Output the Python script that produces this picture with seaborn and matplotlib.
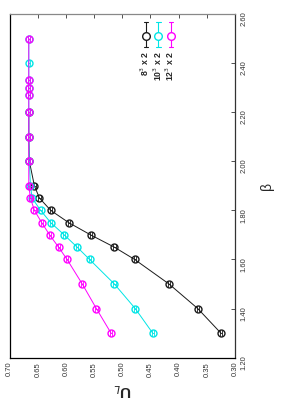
import numpy as np
import pandas as pd
import matplotlib
matplotlib.use("Agg")
import matplotlib.pyplot as plt
import seaborn as sns
from matplotlib.ticker import FormatStrFormatter
from matplotlib.lines import Line2D

# beta values and U_L for each lattice
beta_8 = [1.30, 1.40, 1.50, 1.60, 1.65, 1.70, 1.75, 1.80, 1.85, 1.90, 2.00, 2.10, 2.20]
ul_8 = [0.325, 0.366, 0.417, 0.478, 0.514, 0.556, 0.595, 0.627, 0.647, 0.656, 0.665, 0.666, 0.666]

beta_10 = [1.30, 1.40, 1.50, 1.60, 1.65, 1.70, 1.75, 1.80, 1.85, 1.90, 2.00, 2.10, 2.20, 2.27, 2.30, 2.33, 2.40, 2.50]
ul_10 = [0.446, 0.477, 0.514, 0.558, 0.580, 0.603, 0.627, 0.645, 0.660, 0.663, 0.665, 0.666, 0.666, 0.666, 0.666, 0.666, 0.666, 0.666]

beta_12 = [1.30, 1.40, 1.50, 1.60, 1.65, 1.70, 1.75, 1.80, 1.85, 1.90, 2.00, 2.10, 2.20, 2.27, 2.30, 2.33, 2.50]
ul_12 = [0.520, 0.546, 0.571, 0.598, 0.613, 0.629, 0.643, 0.656, 0.663, 0.666, 0.666, 0.666, 0.666, 0.666, 0.666, 0.666, 0.666]

err = 0.002

series = ["8$^3$ x 2", "10$^3$ x 2", "12$^3$ x 2"]
colores = {"8$^3$ x 2": "#1a1a1a", "10$^3$ x 2": "#00e5e5", "12$^3$ x 2": "#ff00ff"}

df = pd.concat([
    pd.DataFrame({"beta": beta_8, "U": ul_8, "L": series[0]}),
    pd.DataFrame({"beta": beta_10, "U": ul_10, "L": series[1]}),
    pd.DataFrame({"beta": beta_12, "U": ul_12, "L": series[2]}),
], ignore_index=True)

sns.set_style("white")
plt.rcParams["font.family"] = ["Liberation Sans", "DejaVu Sans"]

fig = plt.figure(figsize=(2.83, 4.03), dpi=100)
ax = fig.add_axes([0.034, 0.1124, 0.7964, 0.8529])

for s in series:
    d = df[df["L"] == s]
    c = colores[s]
    sns.lineplot(data=d, x="U", y="beta", orient="y", sort=False, ax=ax,
                 color=c, lw=0.7, marker="o", ms=5, markerfacecolor="none",
                 markeredgecolor=c, mew=1.0, legend=False)
    ax.errorbar(d["U"], d["beta"], xerr=err, fmt="none", ecolor=c,
                elinewidth=0.6, capsize=2.2, capthick=0.6)

ax.set_xlim(0.70, 0.30)
ax.set_ylim(1.20, 2.60)
ax.set_xticks(np.arange(0.30, 0.701, 0.05))
ax.set_yticks(np.arange(1.20, 2.601, 0.20))
ax.xaxis.set_major_formatter(FormatStrFormatter("%.2f"))
ax.yaxis.set_major_formatter(FormatStrFormatter("%.2f"))
ax.yaxis.tick_right()
ax.yaxis.set_label_position("right")
ax.tick_params(axis="x", direction="in", length=3, width=0.6, top=True,
               labelrotation=90, labelsize=5.5, pad=3, colors="#333333")
ax.tick_params(axis="y", direction="in", length=3, width=0.6, left=False, right=True,
               labelrotation=90, labelsize=5.5, pad=4, colors="#333333")

ax.set_xlabel("U$_L$", rotation=180, fontsize=11, fontweight="bold", labelpad=3)
ax.set_ylabel("β", rotation=90, fontsize=10, labelpad=9)

for side in ["left", "bottom"]:
    ax.spines[side].set_color("#000000")
ax.spines["top"].set_color("#888888")
ax.spines["right"].set_color("#333333")
for sp in ax.spines.values():
    sp.set_linewidth(0.9)

# legend drawn rotated by hand
leg_x = [0.605, 0.660, 0.715]
for s, lx in zip(series, leg_x):
    c = colores[s]
    ax.add_line(Line2D([lx, lx], [0.904, 0.977], transform=ax.transAxes, color=c, lw=0.8))
    for cy in [0.904, 0.977]:
        ax.add_line(Line2D([lx - 0.01, lx + 0.01], [cy, cy], transform=ax.transAxes, color=c, lw=0.8))
    ax.add_line(Line2D([lx], [0.935], transform=ax.transAxes, marker="o", ms=5.5,
                       markerfacecolor="white", markeredgecolor=c, mew=1.0))
    ax.text(lx - 0.004, 0.893, s, transform=ax.transAxes, rotation=90,
            ha="center", va="top", fontsize=6.3, fontweight="bold")

fig.savefig("out.png", dpi=100)
